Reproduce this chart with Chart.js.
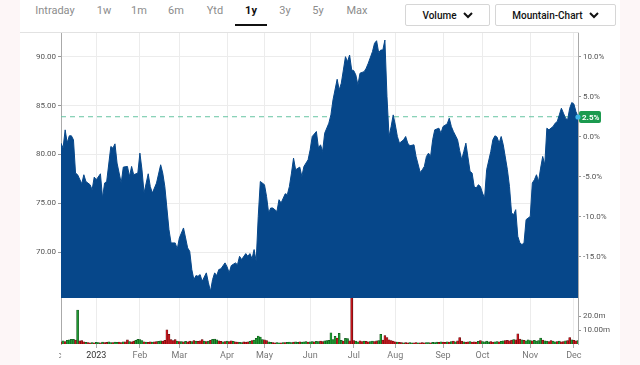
<!DOCTYPE html>
<html>
<head>
<meta charset="utf-8">
<script src="https://cdn.jsdelivr.net/npm/chart.js@4/dist/chart.umd.min.js"></script>
<style>
  html, body { margin: 0; padding: 0; }
  body { width: 640px; height: 365px; background: #fdf6f7; position: relative; overflow: hidden; font-family: Roboto, "Liberation Sans", sans-serif; }
  #panel { position: absolute; left: 20px; top: 0; width: 600px; height: 365px; background: #fff; }
  .tab { position: absolute; top: 4px; font-size: 11px; color: #8c8c8c; transform: translateX(-50%); white-space: nowrap; }
  .tab.on { color: #111; font-weight: 700; }
  #underline { position: absolute; left: 235px; top: 24px; width: 32px; height: 2px; background: #111; }
  .btn { position: absolute; top: 4px; height: 20px; border: 1px solid #d6d6d6; border-radius: 2px; background: #fff;
         display: flex; align-items: center; justify-content: center; gap: 6px; font-size: 10px; font-weight: 500; color: #111; }
  .btn svg { display: block; }
  #topline { position: absolute; left: 20px; top: 32px; width: 559px; height: 1px; background: #e2e2e2; }
  #priceBox { position: absolute; left: 0; top: 30px; width: 640px; height: 268px; }
  #volBox { position: absolute; left: 0; top: 298px; width: 640px; height: 67px; }
  #clipL { position: absolute; left: 20px; top: 346px; width: 39px; height: 19px; background: #fff; }
</style>
</head>
<body>
<div id="panel"></div>
<div class="tab" style="left:55px">Intraday</div>
<div class="tab" style="left:104px">1w</div>
<div class="tab" style="left:139px">1m</div>
<div class="tab" style="left:176px">6m</div>
<div class="tab" style="left:215px">Ytd</div>
<div class="tab on" style="left:251px">1y</div>
<div class="tab" style="left:285px">3y</div>
<div class="tab" style="left:318px">5y</div>
<div class="tab" style="left:357px">Max</div>
<div id="underline"></div>
<div class="btn" style="left:405px;width:83px">Volume
  <svg width="10" height="7" viewBox="0 0 10 7"><polyline points="1,1 5,5 9,1" fill="none" stroke="#111" stroke-width="2"/></svg></div>
<div class="btn" style="left:495px;width:119px">Mountain-Chart
  <svg width="10" height="7" viewBox="0 0 10 7"><polyline points="1,1 5,5 9,1" fill="none" stroke="#111" stroke-width="2"/></svg></div>
<div id="priceBox"><canvas id="priceChart" width="640" height="268"></canvas></div>
<div id="volBox"><canvas id="volChart" width="640" height="67"></canvas></div>
<div id="clipL"></div>
<div id="topline"></div>
<script>
// trading day index (0 = first session shown) and closing price
const tradingDay = [0,1,2,3,4,5,6,7,8,10,11,12,14,15,16,17,19,20,21,22,24,25,26,27,29,30,32,33,34,35,37,38,39,40,42,43,44,46,48,49,50,
  52,53,55,56,57,59,60,61,62,63,64,65,66,67,68,70,71,72,73,74,75,76,77,79,80,81,82,84,85,86,87,89,90,91,92,93,94,95,96,98,99,
  100,101,102,104,105,106,108,109,110,111,112,113,115,116,117,119,120,121,123,124,125,126,127,129,130,131,133,134,135,136,137,138,139,
  140,141,142,143,144,146,147,148,150,151,152,153,154,155,156,157,158,159,160,161,162,163,165,166,167,168,170,171,173,174,175,176,177,178,179,
  180,182,183,184,186,187,188,189,191,192,193,194,195,197,198,199,200,201,202,203,204,205,207,208,209,210,211,212,213,215,216,217,218,219,
  220,221,222,223,224,226,227,228,229,230,231,232,233,234,235,237,238,239,240,241,242,243,244,245,246,247,248,249]
const closePrice = [81.16,80.65,82.52,81.19,81.91,81.91,81.50,78.10,77.93,77.01,77.93,77.24,76.91,76.40,77.69,77.42,78.03,75.55,77.08,77.24,
  80.82,80.65,81.09,79.12,77.08,78.71,78.78,77.76,78.78,77.93,78.10,80.14,78.44,76.06,78.03,76.73,76.06,77.08,78.95,78.10,76.73,
  72.32,70.96,70.96,70.35,71.47,72.49,71.47,70.45,70.10,68.24,67.21,67.62,67.55,67.72,67.04,67.90,66.88,66.02,67.21,67.90,67.62,68.24,68.31,
  68.92,68.51,67.90,68.64,68.92,68.74,69.59,69.26,69.87,69.59,69.87,69.33,70.28,69.08,73.67,77.24,76.91,75.71,
  74.02,74.53,74.53,74.18,75.38,75.04,75.99,75.89,76.73,78.10,79.63,78.44,78.71,77.76,78.78,79.46,80.48,81.84,82.35,80.65,
  80.99,80.31,82.18,83.20,84.05,85.58,87.69,86.60,87.29,88.64,90.00,89.49,90.17,
  88.64,88.57,88.13,87.11,88.31,88.47,88.82,89.33,90.51,91.37,91.63,90.41,90.68,90.68,91.70,85.92,81.84,82.86,84.05,83.03,81.84,81.16,
  81.50,81.84,81.16,80.89,80.99,79.80,78.16,78.44,78.78,79.80,80.14,79.80,81.50,
  82.52,82.69,82.18,82.86,83.13,83.71,82.86,82.35,81.50,80.41,79.46,80.31,81.16,78.27,78.10,76.73,76.57,76.91,76.73,76.06,75.55,78.44,
  80.31,81.50,81.91,81.78,81.16,81.84,80.99,78.44,76.73,74.02,73.85,74.36,
  71.63,70.96,70.79,70.96,73.34,73.67,77.08,77.42,77.93,77.24,78.61,79.80,78.95,82.69,82.52,82.86,83.20,83.37,84.05,84.73,84.22,83.71,
  83.54,84.73,85.31,85.17,84.39,83.86]

// daily volume in millions, one per trading day, and up/down day
const volumeM = [
  1.6,2.2,1.8,2.6,3.0,3.3,3.4,2.8,24.3,2.2,
  2.4,1.5,1.2,1.0,0.8,1.0,0.9,1.2,1.1,0.9,
  1.3,1.0,1.2,1.5,1.1,1.0,1.3,1.2,1.4,1.1,
  1.5,1.6,3.0,1.8,1.5,2.0,2.6,3.4,3.2,2.5,
  1.6,1.4,1.2,1.5,1.3,1.6,1.8,1.9,2.2,2.0,
  2.6,10.2,7.0,3.2,2.4,3.1,2.0,1.7,1.8,1.5,
  1.9,1.6,2.0,1.8,2.4,2.1,1.9,2.2,3.2,2.0,
  1.8,2.0,2.6,3.4,3.6,3.0,2.2,1.9,1.6,1.8,
  2.0,1.8,2.2,1.9,1.5,1.3,1.2,1.1,1.6,1.4,
  1.5,1.9,2.4,2.8,4.0,5.6,5.0,3.2,3.0,2.4,
  1.6,1.2,1.0,0.9,1.0,0.8,0.9,1.1,1.0,1.2,
  1.3,1.1,1.4,1.5,1.2,1.6,1.3,1.5,1.7,1.4,
  1.6,1.8,1.5,1.9,1.7,2.0,1.8,2.2,2.4,2.6,
  8.0,3.2,5.4,4.2,7.6,2.6,2.0,4.0,3.8,2.2,
  33.0,2.4,2.0,1.6,2.2,1.8,2.0,1.9,1.6,1.7,
  2.0,1.8,2.2,2.4,7.0,2.8,6.0,4.6,3.0,2.4,
  2.0,1.6,1.4,1.2,1.0,0.9,1.1,0.8,1.0,0.9,
  0.8,1.0,0.9,0.8,1.0,0.9,1.1,1.0,0.8,1.2,
  1.0,1.4,1.2,1.6,1.3,1.2,1.5,1.4,1.8,2.0,
  1.6,2.2,4.6,2.0,1.6,1.4,1.5,1.8,1.3,1.6,
  1.4,1.9,2.4,1.8,1.6,2.0,1.5,1.7,1.4,1.6,
  1.8,1.5,1.9,2.2,2.4,2.6,2.2,2.8,3.2,3.0,
  7.2,3.6,3.0,2.6,2.2,3.0,2.4,2.2,2.6,2.0,
  2.4,4.2,2.8,2.2,2.0,1.8,2.4,2.0,1.6,1.8,
  2.0,1.6,1.8,2.2,2.4,4.6,3.0,2.6,2.2,2.4]
const volumeDir = ('duduuuudud' + 'ddudduduud' + 'udduuduudd' + 'uddudduuuu' + 'duddudduud' +
  'ddddddudud' + 'uddududddu' + 'duduuuddud' + 'uddudduudd' + 'duduuuuudd' +
  'uudduududu' + 'uuduuduuud' + 'uuduudduuu' + 'uuuduuduud' + 'dduudduddu' +
  'udduuddddd' + 'dduddudduu' + 'dduddduudu' + 'uududdudud' + 'uddduddudd' +
  'duduuuuddu' + 'uduuddddud' + 'dduduuuduu' + 'uuduudduud' + 'uddudduddu').split('')

const monthTicks = [-3.5, 17, 38, 57, 80, 98, 120, 141, 161, 184, 203, 226, 247]
const monthLabels = ['Dec', '2023', 'Feb', 'Mar', 'Apr', 'May', 'Jun', 'Jul', 'Aug', 'Sep', 'Oct', 'Nov', 'Dec']
const priceTicks = [70, 75, 80, 85, 90]
const pctTicks = [-15, -10, -5, 0, 5, 10]
const volTicks = [10, 20]
const volTickLabels = ['10.00m', '20.0m']

const basePrice = 81.82
const priceMin = 65.33
const priceMax = 92.42
const volMax = 32.9
const lastDay = 249

const lastPrice = closePrice[closePrice.length - 1]
const pct = (p) => (p / basePrice - 1) * 100

const gridCol = (c) => (c.tick && c.tick.value < 0 ? 'rgba(0,0,0,0)' : '#ececec')
const tickCol = (c) => (c.tick && c.tick.value < 0 ? 'rgba(0,0,0,0)' : '#aaa')

// keep the axes from pushing the plot area in
const fixWidth = (w) => (s) => { s.width = w; s.paddingTop = 0; s.paddingBottom = 0 }

const lastPriceLine = {
    id: 'lastPriceLine',
    beforeDatasetsDraw(chart) {
        const { ctx, chartArea } = chart
        const y = chart.scales.y.getPixelForValue(lastPrice)
        ctx.save()
        ctx.strokeStyle = '#66c4a2'
        ctx.lineWidth = 1
        ctx.setLineDash([5, 4])
        ctx.beginPath()
        ctx.moveTo(chartArea.left, y)
        ctx.lineTo(chartArea.right, y)
        ctx.stroke()
        ctx.restore()
    },
    afterDraw(chart) {
        const { ctx, chartArea } = chart
        const y = Math.round(chart.scales.y.getPixelForValue(lastPrice))
        const x = chartArea.right
        ctx.save()
        ctx.fillStyle = '#1c9a4f'
        ctx.beginPath()
        ctx.roundRect(x + 1, y - 6, 22, 12, 2)
        ctx.fill()
        ctx.fillStyle = '#fff'
        ctx.font = 'bold 8px Roboto'
        ctx.textBaseline = 'middle'
        ctx.fillText(pct(lastPrice).toFixed(1) + '%', x + 4, y + 0.5)
        ctx.fillStyle = '#3cb6e8'
        ctx.beginPath()
        ctx.arc(x, y, 2.6, 0, Math.PI * 2)
        ctx.fill()
        ctx.restore()
    }
}

Chart.defaults.font.family = 'Roboto'
Chart.defaults.animation = false

new Chart(document.getElementById('priceChart'), {
    type: 'line',
    data: {
        datasets: [{
            data: tradingDay.map((d, i) => ({ x: d, y: closePrice[i] })),
            borderColor: '#06478a',
            backgroundColor: '#06478a',
            borderWidth: 1,
            pointRadius: 0,
            tension: 0,
            fill: 'start'
        }]
    },
    options: {
        responsive: false,
        devicePixelRatio: 1,
        layout: { padding: { top: 3, left: 0, right: 0, bottom: 0 } },
        plugins: { legend: { display: false }, tooltip: { enabled: false } },
        scales: {
            x: {
                type: 'linear', min: 0, max: lastDay,
                afterBuildTicks: (s) => { s.ticks = monthTicks.map((v) => ({ value: v })) },
                afterFit: (s) => { s.height = 0; s.paddingLeft = 0; s.paddingRight = 0 },
                ticks: { display: false },
                grid: { color: gridCol, drawTicks: false },
                border: { display: true, color: '#a9c8e8', width: 1 }
            },
            y: {
                position: 'left', min: priceMin, max: priceMax,
                afterBuildTicks: (s) => { s.ticks = priceTicks.map((v) => ({ value: v })) },
                afterFit: fixWidth(61),
                ticks: { callback: (v) => v.toFixed(2), font: { size: 8 }, color: '#555', padding: 2 },
                grid: { color: '#ececec', tickColor: '#999', tickLength: 3 },
                border: { color: '#aaa' }
            },
            pct: {
                position: 'right', min: pct(priceMin), max: pct(priceMax),
                afterBuildTicks: (s) => { s.ticks = pctTicks.map((v) => ({ value: v })) },
                afterFit: fixWidth(62),
                ticks: { callback: (v) => v.toFixed(1) + '%', font: { size: 8 }, color: '#555', padding: 2 },
                grid: { drawOnChartArea: false, tickColor: '#999', tickLength: 3 },
                border: { color: '#aaa' }
            }
        }
    },
    plugins: [lastPriceLine]
})

new Chart(document.getElementById('volChart'), {
    type: 'bar',
    data: {
        datasets: [{
            data: volumeM.map((v, i) => ({ x: i, y: v })),
            yAxisID: 'vol',
            backgroundColor: volumeDir.map((d) => (d === 'u' ? '#1f9a32' : '#c6161d')),
            borderColor: volumeDir.map((d) => (d === 'u' ? '#0c4514' : '#520a0b')),
            borderWidth: 0.5,
            barThickness: 2
        }]
    },
    options: {
        responsive: false,
        devicePixelRatio: 1,
        layout: { padding: 0 },
        plugins: { legend: { display: false }, tooltip: { enabled: false } },
        scales: {
            x: {
                type: 'linear', min: 0, max: lastDay, offset: false,
                afterBuildTicks: (s) => { s.ticks = monthTicks.map((v) => ({ value: v })) },
                afterFit: (s) => { s.height = 21; s.paddingLeft = 0; s.paddingRight = 0 },
                ticks: {
                    autoSkip: false, maxRotation: 0, padding: 2, font: { size: 9 },
                    color: (c) => (c.tick && c.tick.value === 17 ? '#333' : '#777'),
                    callback: (v) => monthLabels[monthTicks.indexOf(v)]
                },
                grid: { color: gridCol, tickColor: tickCol, tickLength: 4, offset: false },
                border: { display: false }
            },
            yl: {
                position: 'left', min: 0, max: 1,
                afterFit: fixWidth(61),
                ticks: { display: false },
                grid: { display: false },
                border: { display: true, color: '#aaa' }
            },
            vol: {
                position: 'right', min: 0, max: volMax,
                afterBuildTicks: (s) => { s.ticks = volTicks.map((v) => ({ value: v })) },
                afterFit: fixWidth(62),
                ticks: { callback: (v) => volTickLabels[volTicks.indexOf(v)], font: { size: 8 }, color: '#555', padding: 2 },
                grid: { drawOnChartArea: false, tickColor: '#999', tickLength: 3 },
                border: { color: '#aaa' }
            }
        }
    }
})
</script>
</body>
</html>
